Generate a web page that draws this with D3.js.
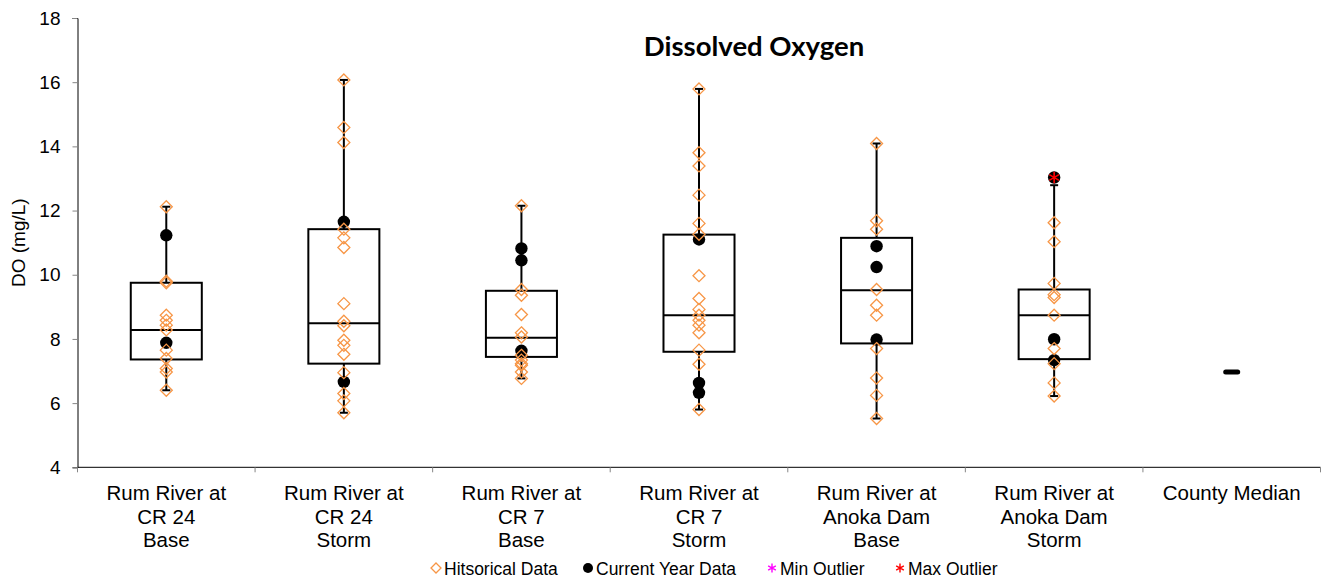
<!DOCTYPE html>
<html>
<head>
<meta charset="utf-8">
<script src="https://cdn.jsdelivr.net/npm/d3@7"></script>
<style>
  body { margin: 0; background: #fff; }
  text { font-family: "Liberation Sans", Arial, sans-serif; fill: #000; }
</style>
</head>
<body>
<script>
// site labels, one line per row
var categories = [
  ["Rum River at", "CR 24", "Base"],
  ["Rum River at", "CR 24", "Storm"],
  ["Rum River at", "CR 7", "Base"],
  ["Rum River at", "CR 7", "Storm"],
  ["Rum River at", "Anoka Dam", "Base"],
  ["Rum River at", "Anoka Dam", "Storm"],
  ["County Median"]
];

// box stats for the six sites
var boxMin    = [6.40, 5.70, 6.77, 5.80, 5.52, 6.22];
var boxQ1     = [7.36, 7.23, 7.44, 7.60, 7.86, 7.37];
var boxMedian = [8.28, 8.49, 8.04, 8.74, 9.52, 8.74];
var boxQ3     = [9.75, 11.42, 9.50, 11.25, 11.15, 9.54];
var boxMax    = [12.12, 16.07, 12.15, 15.79, 14.09, 12.79];

var historical = [
  [12.12, 9.8, 9.75, 8.74, 8.58, 8.43, 8.28, 7.65, 7.39, 7.08, 6.97, 6.40],
  [16.07, 14.59, 14.12, 11.42, 11.15, 10.85, 9.10, 8.55, 8.41, 7.96, 7.80, 7.52, 6.95, 6.30, 6.07, 5.70],
  [12.15, 9.54, 9.36, 8.76, 8.19, 8.06, 7.49, 7.34, 7.23, 7.18, 6.97, 6.77],
  [15.79, 13.80, 13.39, 12.48, 11.60, 11.26, 9.97, 9.26, 8.92, 8.74, 8.58, 8.43, 8.19, 7.65, 7.21, 5.80],
  [14.09, 11.68, 11.42, 9.54, 9.05, 8.74, 7.70, 6.78, 6.24, 5.52],
  [11.62, 11.03, 9.73, 9.38, 9.29, 8.74, 7.70, 7.23, 6.63, 6.22]
];

var current = [
  [11.23, 7.88],
  [11.65, 6.66],
  [10.82, 10.45, 7.63],
  [11.10, 6.63, 6.32],
  [10.89, 10.24, 7.98],
  [13.03, 7.99, 7.34]
];

var minOutliers = [[], [], [], [], [], []];
var maxOutliers = [[], [], [], [], [], [13.03]];

var countyMedian = 6.97;

var yTicks = [4, 6, 8, 10, 12, 14, 16, 18];

var W = 1325, H = 578;
var plotL = 77.5, plotR = 1320.5, plotT = 18, plotB = 467.3;
var orange = "#f79646";

var svg = d3.select("body").append("svg")
    .attr("width", W)
    .attr("height", H);

var x = d3.scaleBand()
    .domain(d3.range(categories.length))
    .range([plotL, plotR])
    .padding(0);

var y = d3.scaleLinear()
    .domain([4, 18])
    .range([plotB, plotT]);

// y axis
var yAxis = svg.append("g")
    .attr("transform", "translate(" + plotL + ",0)")
    .call(d3.axisLeft(y).tickValues(yTicks).tickSize(5).tickPadding(12).tickFormat(d3.format("d")));
yAxis.select(".domain").attr("stroke", "#000");
yAxis.selectAll(".tick line").attr("stroke", "#868686");
yAxis.selectAll(".tick text").style("font-size", "19px").style("font-family", "'Liberation Sans', Arial, sans-serif");

// x axis line + tick marks at band edges
svg.append("line")
    .attr("x1", plotL).attr("x2", plotR)
    .attr("y1", plotB).attr("y2", plotB)
    .attr("stroke", "#000");
svg.selectAll(".xtick")
  .data(d3.range(categories.length + 1))
  .enter().append("line")
    .attr("x1", function(i) { return plotL + i * x.bandwidth(); })
    .attr("x2", function(i) { return plotL + i * x.bandwidth(); })
    .attr("y1", plotB).attr("y2", plotB + 5)
    .attr("stroke", "#868686");

// category labels
var lab = svg.selectAll(".xlab")
  .data(categories)
  .enter().append("text")
    .attr("text-anchor", "middle")
    .style("font-size", "20.5px");
lab.selectAll("tspan")
  .data(function(d, i) { return d.map(function(s) { return {s: s, i: i}; }); })
  .enter().append("tspan")
    .attr("x", function(d) { return x(d.i) + x.bandwidth() / 2; })
    .attr("y", function(d, j) { return 500 + j * 23.6; })
    .text(function(d) { return d.s; });

var sites = d3.range(boxMin.length);
var cx = function(i) { return x(i) + x.bandwidth() / 2; };
var boxW = x.bandwidth() * 0.4;

// whiskers
var wh = svg.append("g").attr("stroke", "#000").attr("stroke-width", 2);
sites.forEach(function(i) {
  wh.append("line").attr("x1", cx(i)).attr("x2", cx(i))
    .attr("y1", y(boxQ3[i])).attr("y2", y(boxMax[i]));
  wh.append("line").attr("x1", cx(i)).attr("x2", cx(i))
    .attr("y1", y(boxQ1[i])).attr("y2", y(boxMin[i]));
  wh.append("line").attr("x1", cx(i) - 4).attr("x2", cx(i) + 4)
    .attr("y1", y(boxMax[i])).attr("y2", y(boxMax[i]));
  wh.append("line").attr("x1", cx(i) - 4).attr("x2", cx(i) + 4)
    .attr("y1", y(boxMin[i])).attr("y2", y(boxMin[i]));
});

// boxes
svg.selectAll(".box")
  .data(sites)
  .enter().append("rect")
    .attr("x", function(i) { return cx(i) - boxW / 2; })
    .attr("y", function(i) { return y(boxQ3[i]); })
    .attr("width", boxW)
    .attr("height", function(i) { return y(boxQ1[i]) - y(boxQ3[i]); })
    .attr("fill", "none")
    .attr("stroke", "#000")
    .attr("stroke-width", 2);
svg.selectAll(".med")
  .data(sites)
  .enter().append("line")
    .attr("x1", function(i) { return cx(i) - boxW / 2; })
    .attr("x2", function(i) { return cx(i) + boxW / 2; })
    .attr("y1", function(i) { return y(boxMedian[i]); })
    .attr("y2", function(i) { return y(boxMedian[i]); })
    .attr("stroke", "#000")
    .attr("stroke-width", 2);

// county median dash
svg.append("line")
    .attr("x1", cx(6) - 6).attr("x2", cx(6) + 6)
    .attr("y1", y(countyMedian)).attr("y2", y(countyMedian))
    .attr("stroke", "#000")
    .attr("stroke-width", 5)
    .attr("stroke-linecap", "round");

function flatten(arr) {
  var out = [];
  arr.forEach(function(vals, i) { vals.forEach(function(v) { out.push({i: i, v: v}); }); });
  return out;
}

var diamond = "M0,-6L6,0L0,6L-6,0Z";

// current year data
svg.selectAll(".cur")
  .data(flatten(current))
  .enter().append("circle")
    .attr("cx", function(d) { return cx(d.i); })
    .attr("cy", function(d) { return y(d.v); })
    .attr("r", 6.2)
    .attr("fill", "#000");

// historical data
svg.selectAll(".hist")
  .data(flatten(historical))
  .enter().append("path")
    .attr("d", diamond)
    .attr("transform", function(d) { return "translate(" + cx(d.i) + "," + y(d.v) + ")"; })
    .attr("fill", "none")
    .attr("stroke", orange)
    .attr("stroke-width", 1.3);

var star = d3.symbol().type(d3.symbolAsterisk).size(90);
svg.selectAll(".minout")
  .data(flatten(minOutliers))
  .enter().append("path")
    .attr("d", star)
    .attr("transform", function(d) { return "translate(" + cx(d.i) + "," + y(d.v) + ")"; })
    .attr("stroke", "#ff00ff").attr("stroke-width", 1.6).attr("fill", "none");
svg.selectAll(".maxout")
  .data(flatten(maxOutliers))
  .enter().append("path")
    .attr("d", star)
    .attr("transform", function(d) { return "translate(" + cx(d.i) + "," + y(d.v) + ")"; })
    .attr("stroke", "#ff0000").attr("stroke-width", 1.6).attr("fill", "none");

// title
svg.append("text")
    .attr("x", 754).attr("y", 56)
    .attr("text-anchor", "middle")
    .style("font-family", "Lato, 'Open Sans', sans-serif")
    .style("font-weight", "bold")
    .style("font-size", "27.5px")
    .text("Dissolved Oxygen");

// y label
svg.append("text")
    .attr("transform", "translate(25," + ((plotT + plotB) / 2) + ") rotate(-90)")
    .attr("text-anchor", "middle")
    .style("font-size", "19px")
    .text("DO (mg/L)");

// legend
var legend = [
  {label: "Hitsorical Data", x: 436, type: "diamond"},
  {label: "Current Year Data", x: 588, type: "dot"},
  {label: "Min Outlier", x: 772, type: "min"},
  {label: "Max Outlier", x: 900, type: "max"}
];
var ly = 568;
var lg = svg.selectAll(".leg").data(legend).enter().append("g")
    .attr("transform", function(d) { return "translate(" + d.x + "," + ly + ")"; });
lg.each(function(d) {
  var g = d3.select(this);
  if (d.type === "diamond") {
    g.append("path").attr("d", "M0,-5L5,0L0,5L-5,0Z").attr("fill", "none")
      .attr("stroke", orange).attr("stroke-width", 1.3);
  } else if (d.type === "dot") {
    g.append("circle").attr("r", 5).attr("fill", "#000");
  } else {
    g.append("path").attr("d", d3.symbol().type(d3.symbolAsterisk).size(55))
      .attr("stroke", d.type === "min" ? "#ff00ff" : "#ff0000")
      .attr("stroke-width", 1.4).attr("fill", "none");
  }
  g.append("text").attr("x", 8).attr("y", 6.5).style("font-size", "17.5px").text(d.label);
});
</script>
</body>
</html>
